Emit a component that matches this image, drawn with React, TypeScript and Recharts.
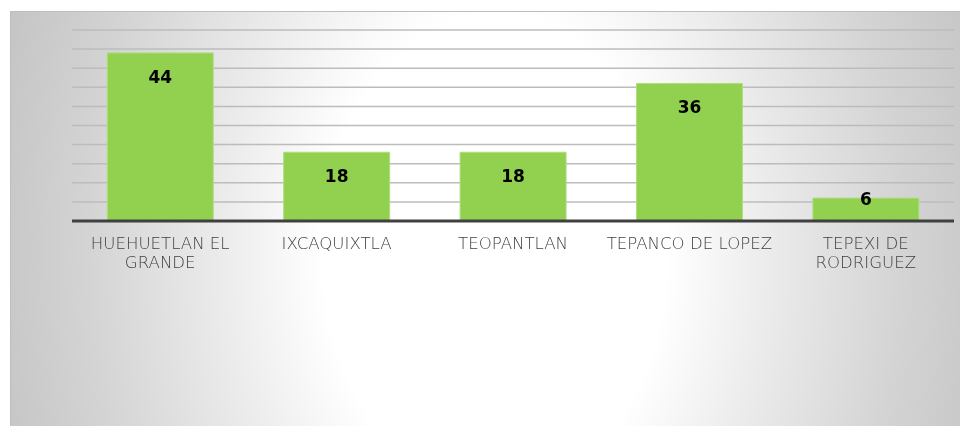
import { Bar, BarChart, CartesianGrid, LabelList, Text, XAxis, YAxis } from "recharts";

const categories = [
  "HUEHUETLAN EL GRANDE",
  "IXCAQUIXTLA",
  "TEOPANTLAN",
  "TEPANCO DE LOPEZ",
  "TEPEXI DE RODRIGUEZ",
];
const values = [44, 18, 18, 36, 6];
const yTicks = [0, 5, 10, 15, 20, 25, 30, 35, 40, 45, 50];

const FONT = "'DejaVu Sans', Verdana, sans-serif";

const chartData = categories.map((name, i) => ({ name, value: values[i] }));

function CategoryTick({ x, y, payload }: { x?: number; y?: number; payload?: any }) {
  return (
    <Text
      x={x}
      y={(y ?? 0) + 16}
      width={178}
      textAnchor="middle"
      verticalAnchor="start"
      lineHeight={19}
      fill="#3f3f3f"
      fontSize={16.6}
      fontWeight={300}
      fontFamily={FONT}
      style={{ fontFamily: FONT, fontSize: 16.6, fontWeight: 300 }}
    >
      {payload?.value}
    </Text>
  );
}

function ValueLabel(props: any) {
  const { x, y, width, height, value } = props;
  // short bars get the label pushed up to the top edge
  const offset = height > 50 ? 24 : 1;
  return (
    <text
      x={x + width / 2}
      y={y + offset}
      textAnchor="middle"
      dominantBaseline="central"
      fill="#000000"
      fontSize={17}
      fontWeight={700}
      fontFamily={FONT}
    >
      {value}
    </text>
  );
}

export default function App() {
  return (
    <div
      style={{
        position: "fixed",
        left: 10,
        top: 11,
        width: 950,
        height: 415,
        borderTop: "1px solid #bdbdbd",
        borderLeft: "1px solid #bdbdbd",
        boxSizing: "border-box",
        background:
          "radial-gradient(ellipse 520px 720px at 51% 58%, #ffffff 0%, #ffffff 33%, #ececec 52%, #d4d4d4 78%, #c4c4c4 100%)",
      }}
    >
      <BarChart
        width={950}
        height={415}
        data={chartData}
        barCategoryGap="20%"
        margin={{ top: 19, right: 6, bottom: 145, left: 62 }}
        style={{ position: "absolute", left: -1, top: -1 }}
      >
        <CartesianGrid vertical={false} stroke="#bcbcbc" strokeWidth={1.5} />
        <YAxis hide type="number" domain={[0, 50]} ticks={yTicks} interval={0} />
        <XAxis
          dataKey="name"
          height={60}
          interval={0}
          tickLine={false}
          tickSize={0}
          tickMargin={0}
          axisLine={{ stroke: "#404040", strokeWidth: 3 }}
          tick={<CategoryTick />}
        />
        <Bar dataKey="value" fill="#92d050" stroke="#b0de80" strokeWidth={1} isAnimationActive={false}>
          <LabelList dataKey="value" content={<ValueLabel />} />
        </Bar>
      </BarChart>
    </div>
  );
}
